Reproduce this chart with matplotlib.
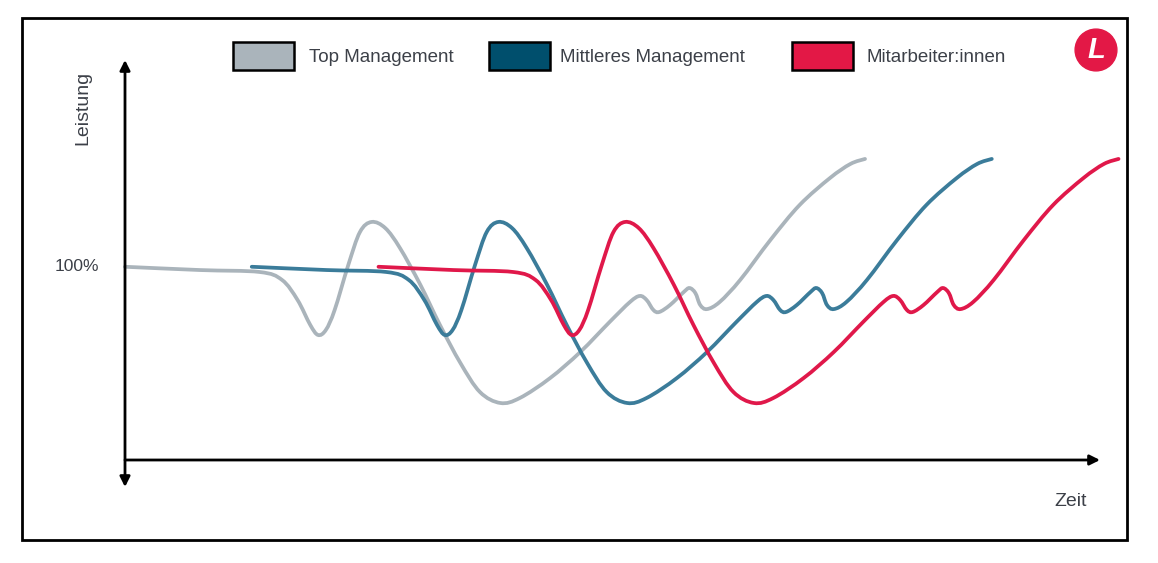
import matplotlib
matplotlib.use('Agg')
import matplotlib.pyplot as plt
from matplotlib.path import Path
from matplotlib.patches import PathPatch, Rectangle, Circle
import numpy as np

plt.rcParams['font.family'] = ['Liberation Sans', 'DejaVu Sans']

# Leistung in % (same shape for all three groups, only delayed in time)
level = [100, 98.3, 97.3, 93.2, 82.8, 69.9, 64.7, 67.3, 77.6, 100.9, 118, 123.2,
         120, 109.7, 90.6, 69.9, 50.2, 35.2, 29.5, 32.1, 42.4, 55.9, 71.4, 81.8,
         84.9, 82.8, 77.6, 76.6, 80.2, 86.9, 89.0, 86.4, 80.2, 78.1, 81.8, 93.2,
         113.9, 132, 145.9, 153.2, 155.8]

t_top = [0, 7.7, 13.8, 16.1, 17.7, 19.0, 19.8, 20.6, 21.5, 22.9, 24.1, 25.3,
         26.7, 28.2, 30.3, 32.3, 34.4, 36.4, 38.5, 40.5, 43.6, 46.7, 49.7, 51.8,
         52.8, 53.5, 54.2, 54.8, 55.9, 57.3, 57.9, 58.5, 59.0, 59.7, 61.0, 63.1,
         66.2, 69.2, 72.3, 74.4, 75.9]
t_mid = [13, 20.7, 26.8, 29.1, 30.7, 32.0, 32.8, 33.6, 34.5, 35.9, 37.1, 38.3,
         39.7, 41.2, 43.3, 45.3, 47.4, 49.4, 51.5, 53.5, 56.6, 59.7, 62.7, 64.8,
         65.8, 66.5, 67.2, 67.8, 68.9, 70.3, 70.9, 71.5, 72.0, 72.7, 74.0, 76.1,
         79.2, 82.2, 85.3, 87.4, 88.9]
t_red = [26, 33.7, 39.8, 42.1, 43.7, 45.0, 45.8, 46.6, 47.5, 48.9, 50.1, 51.3,
         52.7, 54.2, 56.3, 58.3, 60.4, 62.4, 64.5, 66.5, 69.6, 72.7, 75.7, 77.8,
         78.8, 79.5, 80.2, 80.8, 81.9, 83.3, 83.9, 84.5, 85.0, 85.7, 87.0, 89.1,
         92.2, 95.2, 98.3, 100.4, 101.9]

labels = ['Top Management', 'Mittleres Management', 'Mitarbeiter:innen']
line_colors = ['#aab4bb', '#3b7c9a', '#e0184a']
box_colors = ['#aab4bb', '#004f6d', '#e31846']


def smooth_path(x, y):
    # Catmull-Rom through the points, drawn as cubic Bezier segments
    p = np.column_stack([x, y]).astype(float)
    p = np.vstack([p[0], p, p[-1]])
    verts = [p[1]]
    codes = [Path.MOVETO]
    for i in range(1, len(p) - 2):
        c1 = p[i] + (p[i + 1] - p[i - 1]) / 6
        c2 = p[i + 1] - (p[i + 2] - p[i]) / 6
        verts += [c1, c2, p[i + 1]]
        codes += [Path.CURVE4] * 3
    return Path(verts, codes)


W, H = 1158, 563
fig = plt.figure(figsize=(W / 100, H / 100), dpi=100)
ax = fig.add_axes([125 / W, 103 / H, 975 / W, 400 / H])
ax.set_xlim(0, 100)
ax.set_ylim(0, 207)
ax.axis('off')

for t, c in zip([t_top, t_mid, t_red], line_colors):
    ax.add_patch(PathPatch(smooth_path(t, level), fill=False, edgecolor=c,
                           lw=2.7, capstyle='round', clip_on=False, zorder=3))

# axes with arrows
ax.annotate('', xy=(0, 1), xytext=(0, -0.0675), xycoords='axes fraction',
            arrowprops=dict(arrowstyle='<|-|>', color='black', lw=2,
                            mutation_scale=15, shrinkA=0, shrinkB=0))
ax.annotate('', xy=(1, 0), xytext=(0, 0), xycoords='axes fraction',
            arrowprops=dict(arrowstyle='-|>', color='black', lw=2,
                            mutation_scale=15, shrinkA=0, shrinkB=0))

txt = '#3c4048'
ax.text(-2.7, 100, '100%', ha='right', va='center', fontsize=12.5, color=txt)
fig.text(83 / W, 1 - 108 / H, 'Leistung', rotation=90, ha='center',
         va='center', fontsize=14, color=txt)
fig.text(1071 / W, 1 - 502 / H, 'Zeit', ha='center', va='center',
         fontsize=14, color=txt)

# legend boxes and labels
box_x = [233, 489, 792]
text_x = [309, 560, 866]
for bx, tx, c, lab in zip(box_x, text_x, box_colors, labels):
    fig.patches.append(Rectangle((bx / W, 1 - 70 / H), 61 / W, 28 / H,
                                 transform=fig.transFigure, facecolor=c,
                                 edgecolor='black', lw=1.8))
    fig.text(tx / W, 1 - 57 / H, lab, ha='left', va='center', fontsize=13.5,
             color=txt)

# outer frame
fig.patches.append(Rectangle((22 / W, 23 / H), 1105 / W, 522 / H,
                             transform=fig.transFigure, fill=False,
                             edgecolor='black', lw=2))

# logo
logo = fig.add_axes([1074 / W, 1 - 72 / H, 44 / W, 44 / H])
logo.set_xlim(-1, 1)
logo.set_ylim(-1, 1)
logo.set_aspect('equal')
logo.axis('off')
logo.add_patch(Circle((0, 0), 0.95, color='#e31846'))
logo.text(0.0, -0.02, 'L', ha='center', va='center', color='white',
          fontsize=21, fontweight='bold', style='italic')

fig.savefig('out.png', dpi=100)
